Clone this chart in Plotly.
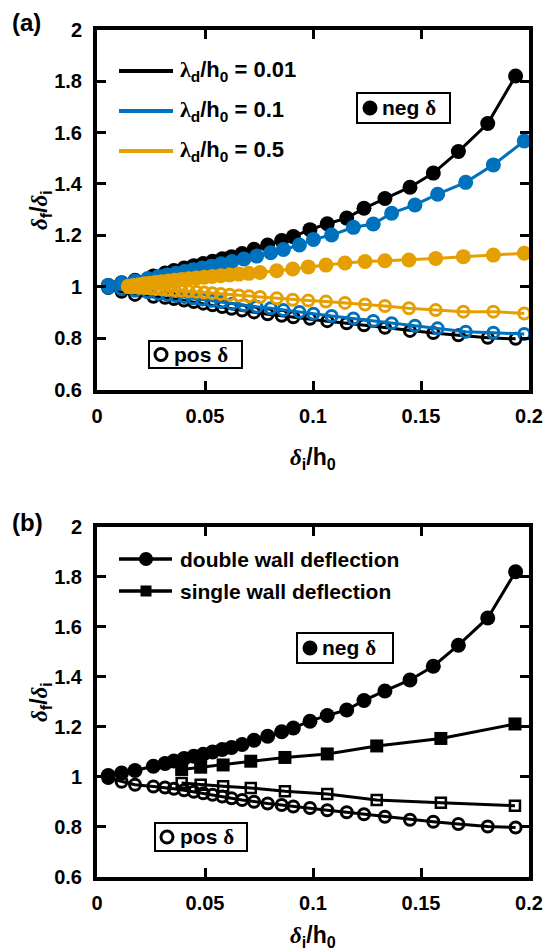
import plotly.graph_objects as go

# ---------------- data ----------------
# lambda_d/h0 = 0.01  (also "double wall deflection" in panel b)
x_lam001 = [0.0052, 0.0114, 0.0176, 0.0261, 0.0315, 0.0356, 0.0403, 0.0448, 0.0492,
            0.0535, 0.0580, 0.0623, 0.0672, 0.0727, 0.0790, 0.0855, 0.0909, 0.0986,
            0.1066, 0.1156, 0.1236, 0.1333, 0.1449, 0.1557, 0.1673, 0.1809, 0.1938]
y_neg_lam001 = [1.005, 1.015, 1.025, 1.042, 1.053, 1.063, 1.073, 1.082, 1.090,
                1.099, 1.109, 1.117, 1.129, 1.146, 1.162, 1.180, 1.195, 1.222,
                1.245, 1.267, 1.305, 1.343, 1.387, 1.442, 1.526, 1.635, 1.820]
y_pos_lam001 = [0.995, 0.980, 0.968, 0.961, 0.957, 0.952, 0.946, 0.940, 0.934,
                0.928, 0.921, 0.914, 0.907, 0.900, 0.893, 0.887, 0.881, 0.875,
                0.866, 0.858, 0.850, 0.840, 0.828, 0.820, 0.811, 0.801, 0.797]

# lambda_d/h0 = 0.1
x_lam01 = [0.0052, 0.0114, 0.0176, 0.0235, 0.0285, 0.0325, 0.0365, 0.0405, 0.0445,
           0.0487, 0.0530, 0.0575, 0.0625, 0.0680, 0.0739, 0.0804, 0.0863, 0.0937,
           0.1002, 0.1086, 0.1187, 0.1279, 0.1364, 0.1472, 0.1577, 0.1707, 0.1835, 0.1978]
y_neg_lam01 = [1.005, 1.013, 1.022, 1.032, 1.040, 1.046, 1.052, 1.059, 1.066,
               1.073, 1.080, 1.089, 1.098, 1.108, 1.119, 1.132, 1.145, 1.162,
               1.184, 1.201, 1.231, 1.244, 1.286, 1.318, 1.360, 1.406, 1.474, 1.567]
y_pos_lam01 = [0.996, 0.990, 0.984, 0.978, 0.972, 0.968, 0.964, 0.960, 0.955,
               0.950, 0.945, 0.940, 0.934, 0.928, 0.922, 0.916, 0.909, 0.902,
               0.895, 0.886, 0.876, 0.867, 0.858, 0.848, 0.838, 0.825, 0.821, 0.816]

# lambda_d/h0 = 0.5
x_lam05 = [0.0145, 0.0170, 0.0195, 0.0220, 0.0245, 0.0272, 0.0300, 0.0330, 0.0360,
           0.0392, 0.0425, 0.0460, 0.0496, 0.0534, 0.0573, 0.0614, 0.0657, 0.0703,
           0.0755, 0.0832, 0.0906, 0.0978, 0.1060, 0.1148, 0.1241, 0.1333, 0.1444,
           0.1568, 0.1696, 0.1835, 0.1978]
y_neg_lam05 = [1.002, 1.005, 1.008, 1.011, 1.013, 1.016, 1.019, 1.022, 1.025,
               1.028, 1.031, 1.034, 1.037, 1.040, 1.043, 1.046, 1.049, 1.052,
               1.055, 1.062, 1.069, 1.077, 1.084, 1.092, 1.098, 1.101, 1.104,
               1.110, 1.117, 1.123, 1.130]
y_pos_lam05 = [0.999, 0.998, 0.996, 0.995, 0.993, 0.992, 0.990, 0.988, 0.986,
               0.984, 0.982, 0.980, 0.977, 0.975, 0.972, 0.969, 0.966, 0.963,
               0.960, 0.955, 0.949, 0.946, 0.942, 0.937, 0.931, 0.925, 0.916,
               0.909, 0.903, 0.903, 0.896]

# single wall deflection (panel b)
x_single = [0.0392, 0.0480, 0.0584, 0.0712, 0.0870, 0.1066, 0.1295, 0.1592, 0.1935]
y_neg_single = [1.029, 1.038, 1.047, 1.062, 1.077, 1.091, 1.123, 1.153, 1.211]
y_pos_single = [0.975, 0.968, 0.962, 0.955, 0.942, 0.931, 0.907, 0.896, 0.884]

legend_a = ["0.01", "0.1", "0.5"]
legend_b = ["double wall deflection", "single wall deflection"]
x_tickvals = [0, 0.05, 0.1, 0.15, 0.2]
x_ticktext = ["0", "0.05", "0.1", "0.15", "0.2"]
y_tickvals = [0.6, 0.8, 1.0, 1.2, 1.4, 1.6, 1.8, 2.0]
y_ticktext = ["0.6", "0.8", "1", "1.2", "1.4", "1.6", "1.8", "2"]

# ---------------- styling ----------------
W, H = 550, 952
BLACK, BLUE, ORANGE = "#000000", "#0072BD", "#E69F00"
SANS = "Liberation Sans"
SERIF = "Liberation Serif"


def fx(px):
    return px / W


def fy(py):
    return 1 - py / H


def serif(s, italic=False):
    t = f"<i>{s}</i>" if italic else s
    return f'<span style="font-family:{SERIF}">{t}</span>'


fig = go.Figure()

FILLED = 15
OPEN = 11
LW = 3


def add_series(x, y, color, filled, xa, ya, symbol="circle"):
    if filled:
        marker = dict(symbol=symbol, size=FILLED if symbol == "circle" else 13,
                      color=color, line=dict(width=0))
    else:
        marker = dict(symbol=symbol + "-open", size=OPEN if symbol == "circle" else 10,
                      color=color, line=dict(width=3 if symbol == "circle" else 2.5, color=color))
    fig.add_trace(go.Scatter(x=x, y=y, mode="lines+markers", xaxis=xa, yaxis=ya,
                             line=dict(color=color, width=LW), marker=marker,
                             showlegend=False, cliponaxis=False, hoverinfo="skip"))


# panel (a)
for xs, yn, yp, c in [(x_lam001, y_neg_lam001, y_pos_lam001, BLACK),
                      (x_lam01, y_neg_lam01, y_pos_lam01, BLUE),
                      (x_lam05, y_neg_lam05, y_pos_lam05, ORANGE)]:
    add_series(xs, yn, c, True, "x", "y")
    add_series(xs, yp, c, False, "x", "y")

# panel (b)
add_series(x_lam001, y_neg_lam001, BLACK, True, "x2", "y2")
add_series(x_lam001, y_pos_lam001, BLACK, False, "x2", "y2")
add_series(x_single, y_neg_single, BLACK, True, "x2", "y2", symbol="square")
add_series(x_single, y_pos_single, BLACK, False, "x2", "y2", symbol="square")

xdom = [fx(97), fx(529)]
ya_dom = [fy(389.5), fy(29.7)]
yb_dom = [fy(876.7), fy(526.7)]

tickfont = dict(family=SANS, size=20, color="black", weight="bold")
axcommon = dict(showline=True, linewidth=4, linecolor="black", mirror="ticks",
                ticks="inside", ticklen=9, tickwidth=3, tickcolor="black",
                showgrid=False, zeroline=False, tickfont=tickfont, automargin=False)

xcfg = dict(range=[0, 0.2], tickvals=x_tickvals, ticktext=x_ticktext,
            ticklabelstandoff=5, **axcommon)
ycfg = dict(range=[0.6, 2.0], tickvals=y_tickvals, ticktext=y_ticktext,
            ticklabelstandoff=7, **axcommon)

fig.update_layout(
    width=W, height=H, margin=dict(l=0, r=0, t=0, b=0),
    paper_bgcolor="white", plot_bgcolor="white", showlegend=False,
    xaxis=dict(domain=xdom, anchor="y", **xcfg),
    yaxis=dict(domain=ya_dom, anchor="x", **ycfg),
    xaxis2=dict(domain=xdom, anchor="y2", **xcfg),
    yaxis2=dict(domain=yb_dom, anchor="x2", **ycfg),
)

shapes = []
annos = []


def text(px, py, s, size=21, xanchor="left", angle=0):
    annos.append(dict(x=fx(px), y=fy(py), xref="paper", yref="paper", text=s,
                      showarrow=False, xanchor=xanchor, yanchor="middle", textangle=angle,
                      font=dict(family=SANS, size=size, color="black", weight="bold")))


def hline(x0, x1, y, color, w):
    shapes.append(dict(type="line", xref="paper", yref="paper", x0=fx(x0), x1=fx(x1),
                       y0=fy(y), y1=fy(y), line=dict(color=color, width=w)))


def circle(cx, cy, d, filled, lw=3):
    r = d / 2
    shapes.append(dict(type="circle", xref="paper", yref="paper",
                       x0=fx(cx - r), x1=fx(cx + r), y0=fy(cy + r), y1=fy(cy - r),
                       fillcolor="black" if filled else "white",
                       line=dict(color="black", width=0 if filled else lw)))


def square(cx, cy, d):
    r = d / 2
    shapes.append(dict(type="rect", xref="paper", yref="paper",
                       x0=fx(cx - r), x1=fx(cx + r), y0=fy(cy + r), y1=fy(cy - r),
                       fillcolor="black", line=dict(color="black", width=0)))


def box(x0, x1, y0, y1):
    shapes.append(dict(type="rect", xref="paper", yref="paper",
                       x0=fx(x0), x1=fx(x1), y0=fy(y1), y1=fy(y0),
                       fillcolor="white", line=dict(color="black", width=2)))


# legend (a)
for (yy, col), lab in zip([(71, BLACK), (111, BLUE), (151, ORANGE)], legend_a):
    hline(119, 173, yy, col, 4)
    text(178, yy, serif("λ") + "<sub>d</sub>/h<sub>0</sub> = " + lab, size=22)

# legend (b)
hline(119, 172, 559, BLACK, 3.5)
circle(146, 559, 14, True)
text(178, 559, legend_b[0])
hline(119, 172, 591, BLACK, 3.5)
square(146, 591, 11)
text(178, 591, legend_b[1])

# neg / pos boxes
box(357, 450, 93, 123)
circle(370, 108, 15, True)
text(380, 108, "neg " + serif("δ", False), size=21)
box(149, 242, 341, 368)
circle(161, 354.5, 12, False)
text(172, 354.5, "pos " + serif("δ"), size=21)
box(297, 393, 633, 663)
circle(310, 648, 15, True)
text(320, 648, "neg " + serif("δ"), size=21)
box(155, 247, 823, 851)
circle(167, 837, 12, False)
text(178, 837, "pos " + serif("δ"), size=21)

# axis titles & panel labels
xtitle = serif("δ", True) + "<sub>i</sub>/h<sub>0</sub>"
ytitle = serif("δ", True) + "<sub>f</sub>/" + serif("δ", True) + "<sub>i</sub>"
text(313, 458, xtitle, size=23, xanchor="center")
text(313, 936, xtitle, size=23, xanchor="center")
text(40, 210, ytitle, size=23, xanchor="center", angle=-90)
text(40, 702, ytitle, size=23, xanchor="center", angle=-90)
text(10, 22, "(a)", size=24)
text(10, 522, "(b)", size=24)

fig.update_layout(shapes=shapes, annotations=annos)
fig.write_html("out.html")
